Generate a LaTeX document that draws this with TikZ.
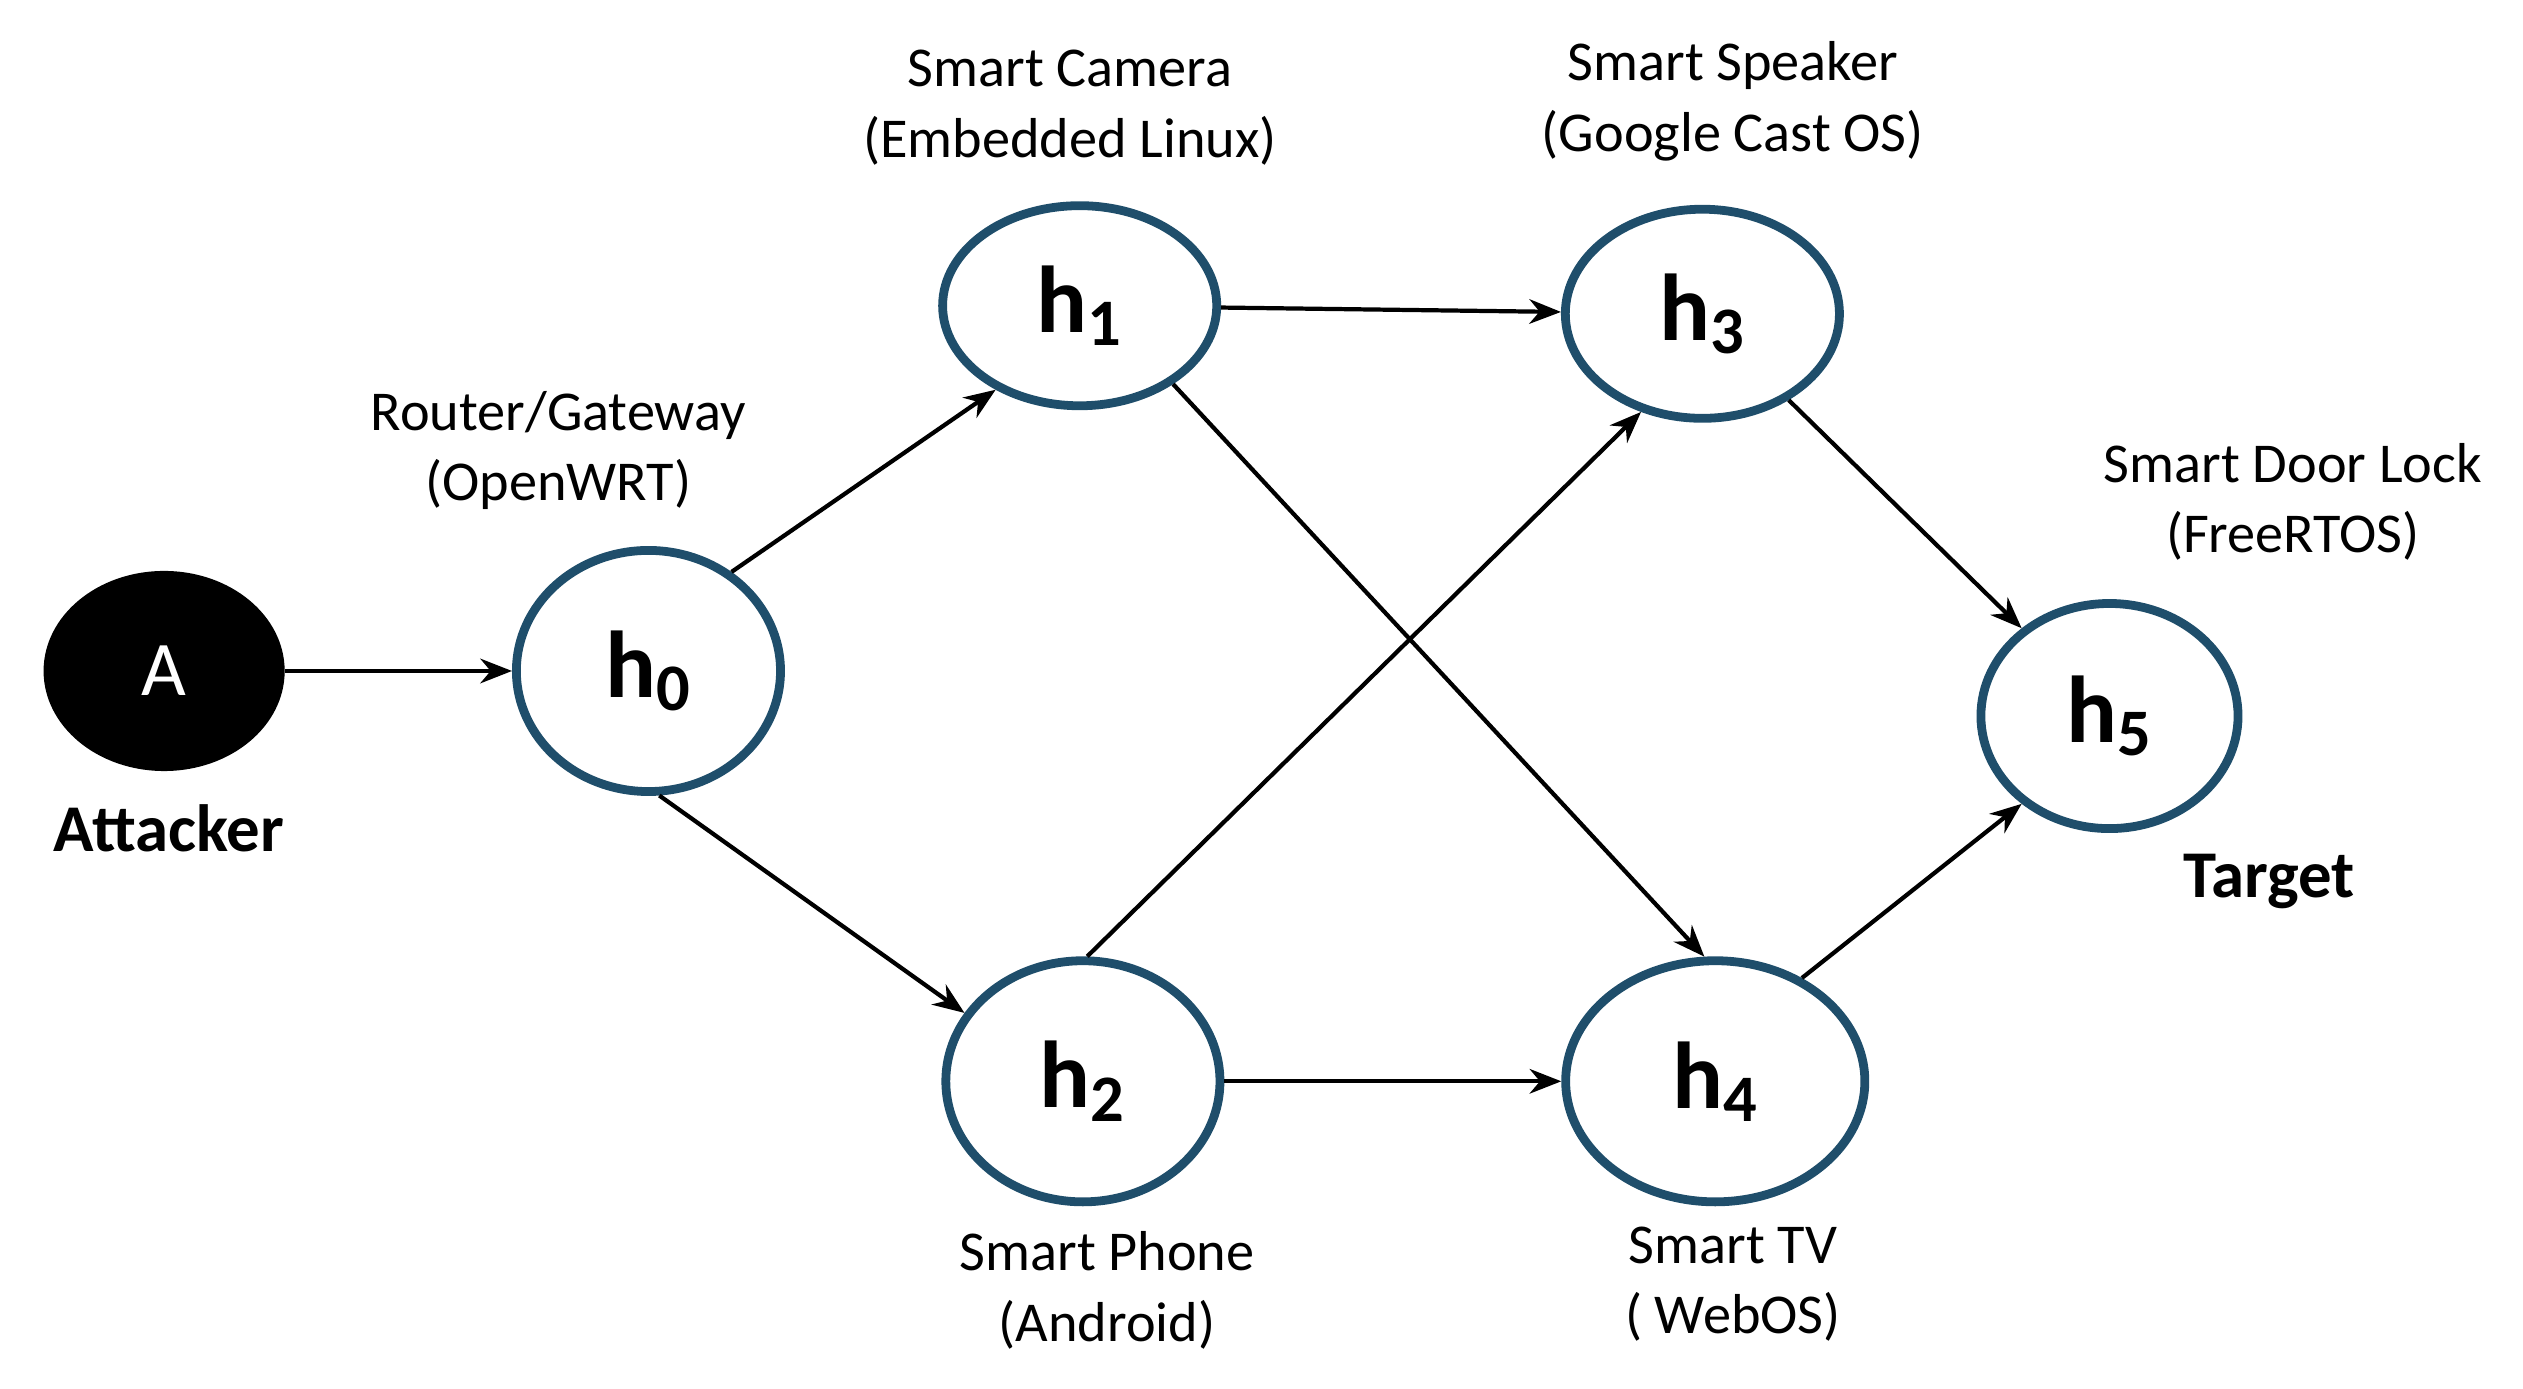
\documentclass[tikz,border=0pt]{standalone}
\usepackage{fontspec}
\setmainfont{Carlito}
\usetikzlibrary{arrows.meta,shapes.geometric}
\definecolor{ring}{HTML}{1F4E6B}
\begin{document}
\begin{tikzpicture}[x=0.01609cm,y=-0.01609cm,
  host/.style={ellipse,draw=ring,line width=2.5pt,fill=white,inner sep=0pt,font=\fontsize{27}{28}\selectfont\bfseries},
  lbl/.style={align=center,font=\fontsize{16}{20}\selectfont},
  big/.style={font=\fontsize{19}{22}\selectfont\bfseries},
  edge/.style={-{Stealth[length=9pt,width=7pt]},line width=1.2pt}]
\useasboundingbox (0,0) rectangle (1568,863);
\node[ellipse,fill=black,text=white,inner sep=0pt,minimum width=2.41cm,minimum height=2.0cm,font=\fontsize{22}{24}\selectfont] (A) at (102,417) {A};
\node[host,minimum width=2.64cm,minimum height=2.41cm] (h0) at (403,417) {h\textsubscript{0}};
\node[host,minimum width=2.74cm,minimum height=2.0cm] (h1) at (671,190) {h\textsubscript{1}};
\node[host,minimum width=2.74cm,minimum height=2.09cm] (h3) at (1058,195) {h\textsubscript{3}};
\node[host,minimum width=2.74cm,minimum height=2.41cm] (h2) at (673,672) {h\textsubscript{2}};
\node[host,minimum width=2.99cm,minimum height=2.41cm] (h4) at (1066,672) {h\textsubscript{4}};
\node[host,minimum width=2.57cm,minimum height=2.25cm] (h5) at (1311,445) {h\textsubscript{5}};
\draw[edge] (A) -- (h0);
\draw[edge] (h0.50) -- (h1.225);
\draw[edge] (h0.-85) -- (h2.150);
\draw[edge] (h1) -- (h3);
\draw[edge] (h1.-40) -- (h4.95);
\draw[edge] (h2.88) -- (h3.238);
\draw[edge] (h2) -- (h4);
\draw[edge] (h3.-45) -- (h5.135);
\draw[edge] (h4.50) -- (h5.-135);
\node[lbl] (l0) at (347,280) {Router/Gateway\\(OpenWRT)};
\node[lbl] (l1) at (665,67) {Smart Camera\\(Embedded Linux)};
\node[lbl] (l3) at (1077,63) {Smart Speaker\\(Google Cast OS)};
\node[lbl] (l5) at (1425,312) {Smart Door Lock\\(FreeRTOS)};
\node[lbl] (l2) at (688,802) {Smart Phone\\(Android)};
\node[lbl] (l4) at (1077,798) {Smart TV\\( WebOS)};
\node[big] (att) at (105,515) {Attacker};
\node[big] (tgt) at (1410,548) {Target};
\end{tikzpicture}
\end{document}
